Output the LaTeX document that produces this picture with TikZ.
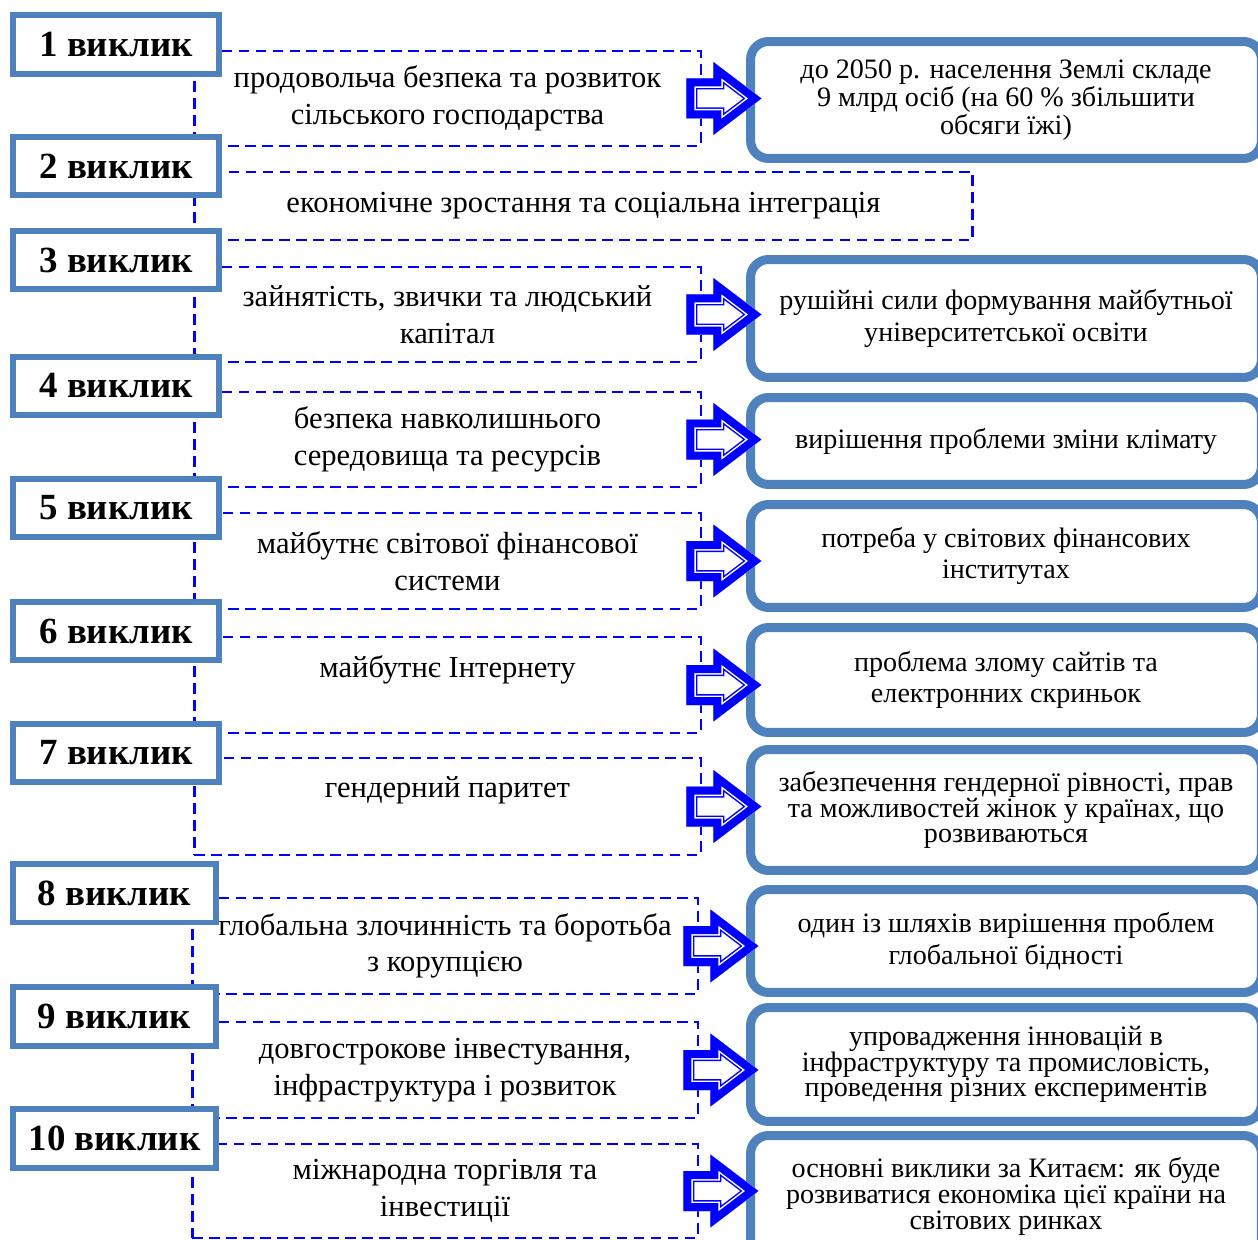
\documentclass[tikz,border=0pt]{standalone}
\usepackage{fontspec}
\setmainfont{Liberation Serif}
\usetikzlibrary{calc}
\definecolor{boxblue}{HTML}{4F81BD}
\definecolor{dashblue}{HTML}{0000FF}
\tikzset{%
  callbox/.style={draw=boxblue, line width=0.12cm, fill=white, inner sep=0mm,
    minimum width=4.12cm, minimum height=1.18cm,
    font=\fontsize{21}{24}\selectfont\bfseries},
  topic/.style={draw=dashblue, line width=0.058cm, dash pattern=on 0.21cm off 0.13cm,
    align=center, inner sep=0mm, minimum width=10.14cm, minimum height=1.9cm,
    font=\fontsize{17.4}{20.8}\selectfont},
  result/.style={draw=boxblue, line width=0.18cm, rounded corners=0.36cm, fill=white,
    align=center, inner sep=0mm, minimum width=10.22cm,
    font=\fontsize{16}{18.1}\selectfont},
  result3/.style={result, font=\fontsize{16}{14.7}\selectfont},
  innerframe/.style={draw=boxblue, line width=0.03cm, rounded corners=0.24cm},
}
\newcommand{\arrowpath}{(-16,-20) -- (11,-20) -- (11,-36.5) -- (59,0) -- (11,36.5) -- (11,20) -- (-16,20) -- cycle}
\newcommand{\blockarrow}[1]{%
  \begin{scope}[shift={(#1.east)}]
    \fill[white] \arrowpath;
    \begin{scope}
      \clip \arrowpath;
      \draw[dashblue, line width=0.44cm] \arrowpath;
      \draw[white, line width=0.38cm] \arrowpath;
      \draw[dashblue, line width=0.32cm] \arrowpath;
    \end{scope}
  \end{scope}}
\newcommand{\frameinside}[1]{%
  \draw[innerframe] ($(#1.north west)+(8,8)$) rectangle ($(#1.south east)+(-8,-8)$);}

\begin{document}
\begin{tikzpicture}[x=0.02cm, y=-0.02cm]
  \useasboundingbox (0,0) rectangle (1258,1240);

  % challenges
  \node[topic] (d1) at (447.5,98.5) {продовольча безпека та розвиток\\сільського господарства};
  \node[topic, minimum width=15.58cm, minimum height=1.36cm] (d2) at (583.5,206) {економічне зростання та соціальна інтеграція};
  \node[topic] (d3) at (447.5,314.5) {зайнятість, звички та людський\\капітал};
  \node[topic] (d4) at (447.5,439.5) {безпека навколишнього\\середовища та ресурсів};
  \node[topic, minimum height=1.92cm] (d5) at (447.5,561) {майбутнє світової фінансової\\системи};
  \node[topic, minimum height=1.92cm, text depth=0.73cm] (d6) at (447.5,685) {майбутнє Інтернету};
  \node[topic, minimum height=1.94cm, text depth=0.78cm] (d7) at (447.5,806.5) {гендерний паритет};
  \node[topic, minimum width=10.12cm, minimum height=1.92cm] (d8) at (445,946) {глобальна злочинність та боротьба\\з корупцією};
  \node[topic, minimum width=10.12cm, minimum height=1.92cm] (d9) at (445,1070) {довгострокове інвестування,\\інфраструктура і розвиток};
  \node[topic, minimum width=10.12cm, minimum height=1.88cm] (d10) at (445,1191) {міжнародна торгівля та\\інвестиції};

  % numbers
  \node[callbox] (c1) at (116,44.5) {1 виклик};
  \node[callbox] (c2) at (116,166) {2 виклик};
  \node[callbox] (c3) at (116,260) {3 виклик};
  \node[callbox] (c4) at (116,386) {4 виклик};
  \node[callbox] (c5) at (116,508) {5 виклик};
  \node[callbox] (c6) at (116,631) {6 виклик};
  \node[callbox] (c7) at (116,753) {7 виклик};
  \node[callbox, minimum width=4.06cm] (c8) at (114.5,893) {8 виклик};
  \node[callbox, minimum width=4.06cm] (c9) at (114.5,1016) {9 виклик};
  \node[callbox, minimum width=4.06cm] (c10) at (114.5,1138.5) {10 виклик};

  % outcomes
  \node[result3, minimum height=2.34cm] (r1) at (1006,100) {до 2050 р. населення Землі складе\\9 млрд осіб (на 60 \% збільшити\\обсяги їжі)};
  \node[result, minimum height=2.36cm] (r3) at (1006,318.5) {рушійні сили формування майбутньої\\університетської освіти};
  \node[result, minimum height=1.74cm] (r4) at (1006,441) {вирішення проблеми зміни клімату};
  \node[result, minimum height=2.06cm] (r5) at (1006,556) {потреба у світових фінансових\\інститутах};
  \node[result, minimum height=2.1cm] (r6) at (1006,680) {проблема злому сайтів та\\електронних скриньок};
  \node[result3, minimum height=2.42cm] (r7) at (1006,810) {забезпечення гендерної рівності, прав\\та можливостей жінок у країнах, що\\розвиваються};
  \node[result, minimum height=2.06cm] (r8) at (1006,941) {один із шляхів вирішення проблем\\глобальної бідності};
  \node[result3, minimum height=2.28cm] (r9) at (1006,1064.5) {упровадження інновацій в\\інфраструктуру та промисловість,\\проведення різних експериментів};
  \node[result3, minimum height=2.44cm] (r10) at (1006,1196.5) {основні виклики за Китаєм: як буде\\розвиватися економіка цієї країни на\\світових ринках};

  \frameinside{r1}
  \frameinside{r3}
  \frameinside{r4}
  \frameinside{r5}
  \frameinside{r6}
  \frameinside{r7}
  \frameinside{r8}
  \frameinside{r9}
  \frameinside{r10}

  \blockarrow{d1}
  \blockarrow{d3}
  \blockarrow{d4}
  \blockarrow{d5}
  \blockarrow{d6}
  \blockarrow{d7}
  \blockarrow{d8}
  \blockarrow{d9}
  \blockarrow{d10}
\end{tikzpicture}
\end{document}
